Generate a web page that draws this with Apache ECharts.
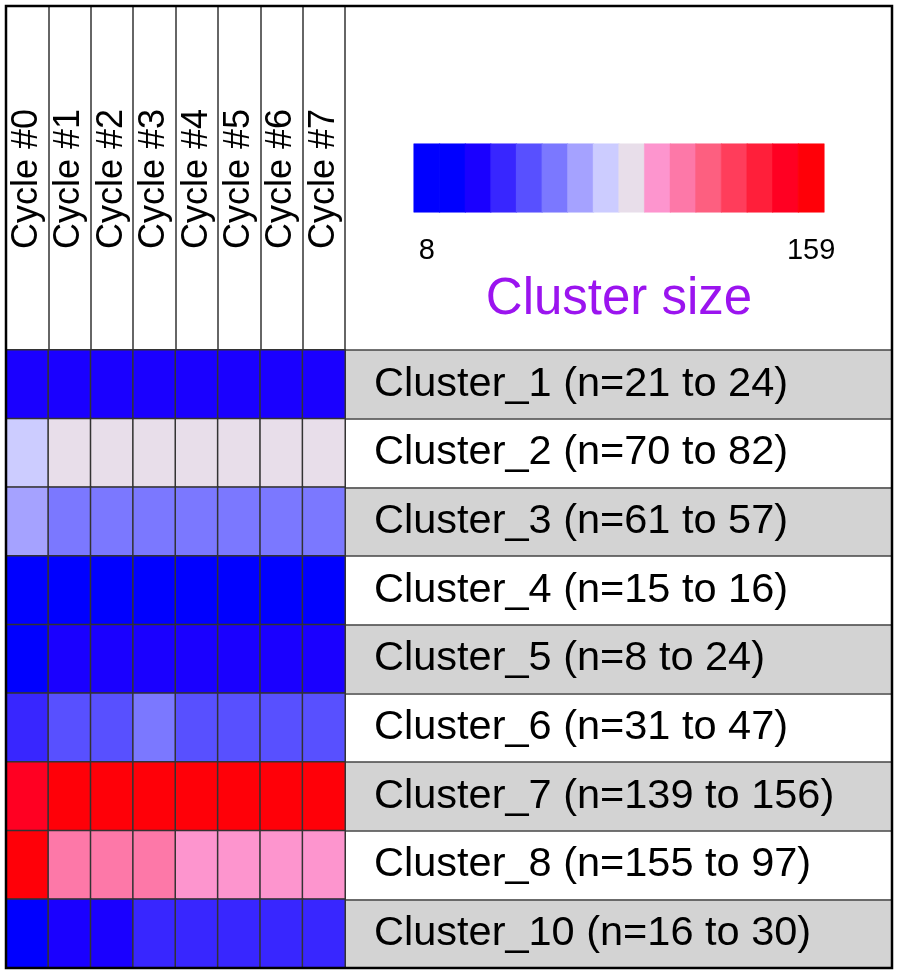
<!DOCTYPE html>
<html>
<head>
<meta charset="utf-8">
<script src="https://cdn.jsdelivr.net/npm/echarts@6/dist/echarts.min.js"></script>
<style>
html,body{margin:0;padding:0;background:#fff;}
#chart{width:900px;height:975px;}
</style>
</head>
<body>
<div id="chart"></div>
<script>
// ---- data ----
const cycles = ['Cycle #0','Cycle #1','Cycle #2','Cycle #3','Cycle #4','Cycle #5','Cycle #6','Cycle #7'];
const clusterLabels = [
  'Cluster_1 (n=21 to 24)',
  'Cluster_2 (n=70 to 82)',
  'Cluster_3 (n=61 to 57)',
  'Cluster_4 (n=15 to 16)',
  'Cluster_5 (n=8 to 24)',
  'Cluster_6 (n=31 to 47)',
  'Cluster_7 (n=139 to 156)',
  'Cluster_8 (n=155 to 97)',
  'Cluster_10 (n=16 to 30)'
];
const cluster1  = [21, 22, 22, 23, 23, 23, 24, 24];
const cluster2  = [70, 80, 81, 81, 82, 82, 82, 82];
const cluster3  = [61, 56, 56, 56, 57, 57, 57, 57];
const cluster4  = [15, 15, 15, 16, 16, 16, 16, 16];
const cluster5  = [8, 20, 21, 22, 22, 23, 23, 24];
const cluster6  = [31, 44, 45, 52, 46, 46, 47, 47];
const cluster7  = [139, 152, 153, 154, 155, 155, 156, 156];
const cluster8  = [155, 106, 104, 102, 98, 97, 97, 97];
const cluster10 = [16, 24, 26, 29, 29, 30, 30, 30];
const clusterRows = [cluster1, cluster2, cluster3, cluster4, cluster5, cluster6, cluster7, cluster8, cluster10];

const scaleMin = 8;
const scaleMax = 159;
const palette = ['#0000FF','#1A00FF','#3826FF','#5850FF','#7B78FF','#A5A2FF','#CCCCFF','#E8DEEA',
                 '#FD95CE','#FD78A8','#FD5F80','#FF3D5B','#FF1F3A','#FF0022','#FF0008'];
const colorbarIndex = [0,0,1,2,3,4,5,6,7,8,9,10,11,12,13,14];
const colorbarTicks = ['8','159'];
const legendTitle = 'Cluster size';

// ---- build ----
const heatData = [];
clusterRows.forEach((row, r) => row.forEach((v, c) => heatData.push([c, r, v])));

const step = (scaleMax - scaleMin) / palette.length;
const pieces = palette.map((col, i) => {
  const p = {gte: scaleMin + i * step, color: col};
  if (i < palette.length - 1) p.lt = scaleMin + (i + 1) * step; else p.lte = scaleMax + 1;
  return p;
});

const cbCats = colorbarIndex.map((_, i) => i === 0 ? colorbarTicks[0] : (i === colorbarIndex.length - 1 ? colorbarTicks[1] : ' '));
const cbData = colorbarIndex.map((ci, i) => ({value: [i, 0, ci], itemStyle: {color: palette[ci], borderColor: palette[ci], borderWidth: 0.5}}));

const FONT = 'Liberation Sans, Arial, sans-serif';
const chart = echarts.init(document.getElementById('chart'), null, {renderer: 'canvas'});

const L = 6, T = 6, HEAD_B = 350, BOT = 968, MID = 345, R = 892;

chart.setOption({
  animation: false,
  backgroundColor: '#ffffff',
  grid: [
    {left: L, top: HEAD_B, width: MID - L, height: BOT - HEAD_B},           // 0 heatmap
    {left: L, top: T, width: MID - L, height: HEAD_B - T},                  // 1 header
    {left: MID, top: HEAD_B, width: R - MID, height: BOT - HEAD_B},         // 2 label panel
    {left: 414, top: 144, width: 410, height: 68}                           // 3 colorbar
  ],
  xAxis: [
    {type: 'category', gridIndex: 0, data: cycles, position: 'top',
     axisLine: {show: false}, axisTick: {show: false}, splitLine: {show: false},
     axisLabel: {rotate: -90, margin: 101, fontSize: 36, color: '#000', fontFamily: FONT, interval: 0}},
    {type: 'category', gridIndex: 1, data: cycles,
     axisLine: {show: true, lineStyle: {color: '#333', width: 1.5}}, axisTick: {show: false},
     axisLabel: {show: false},
     splitLine: {show: true, interval: 0, lineStyle: {color: '#333', width: 1.5}}},
    {type: 'value', gridIndex: 2, min: 0, max: 1, show: false},
    {type: 'category', gridIndex: 3, data: cbCats,
     axisLine: {show: false}, axisTick: {show: false}, splitLine: {show: false},
     axisLabel: {interval: 0, margin: 24, fontSize: 29, color: '#000', fontFamily: FONT}}
  ],
  yAxis: [
    {type: 'category', gridIndex: 0, data: clusterLabels, inverse: true, show: false},
    {type: 'value', gridIndex: 1, min: 0, max: 1, show: false},
    {type: 'category', gridIndex: 2, data: clusterLabels, inverse: true,
     axisLine: {show: true, lineStyle: {color: '#333', width: 1.5}}, axisTick: {show: false},
     axisLabel: {inside: true, margin: 29, fontSize: 41.5, color: '#000', fontFamily: FONT, interval: 0},
     splitArea: {show: true, interval: 0, areaStyle: {color: ['#d3d3d3', '#ffffff']}},
     splitLine: {show: true, interval: 0, lineStyle: {color: '#444', width: 1.5}}},
    {type: 'category', gridIndex: 3, data: [''], show: false}
  ],
  visualMap: [{type: 'piecewise', show: false, seriesIndex: 0, dimension: 2, pieces: pieces}],
  series: [
    {type: 'heatmap', xAxisIndex: 0, yAxisIndex: 0, data: heatData,
     itemStyle: {borderColor: '#333', borderWidth: 1.5}, emphasis: {disabled: true}},
    {type: 'heatmap', xAxisIndex: 3, yAxisIndex: 3, data: cbData, emphasis: {disabled: true}}
  ],
  graphic: [
    {type: 'text', x: 619, y: 274,
     style: {text: legendTitle, font: '51px ' + FONT, fill: '#9b14ef', textAlign: 'center'}},
    {type: 'rect', shape: {x: L, y: T, width: R - L, height: BOT - T},
     style: {fill: 'none', stroke: '#000', lineWidth: 2.5}, z: 100}
  ]
});
</script>
</body>
</html>
